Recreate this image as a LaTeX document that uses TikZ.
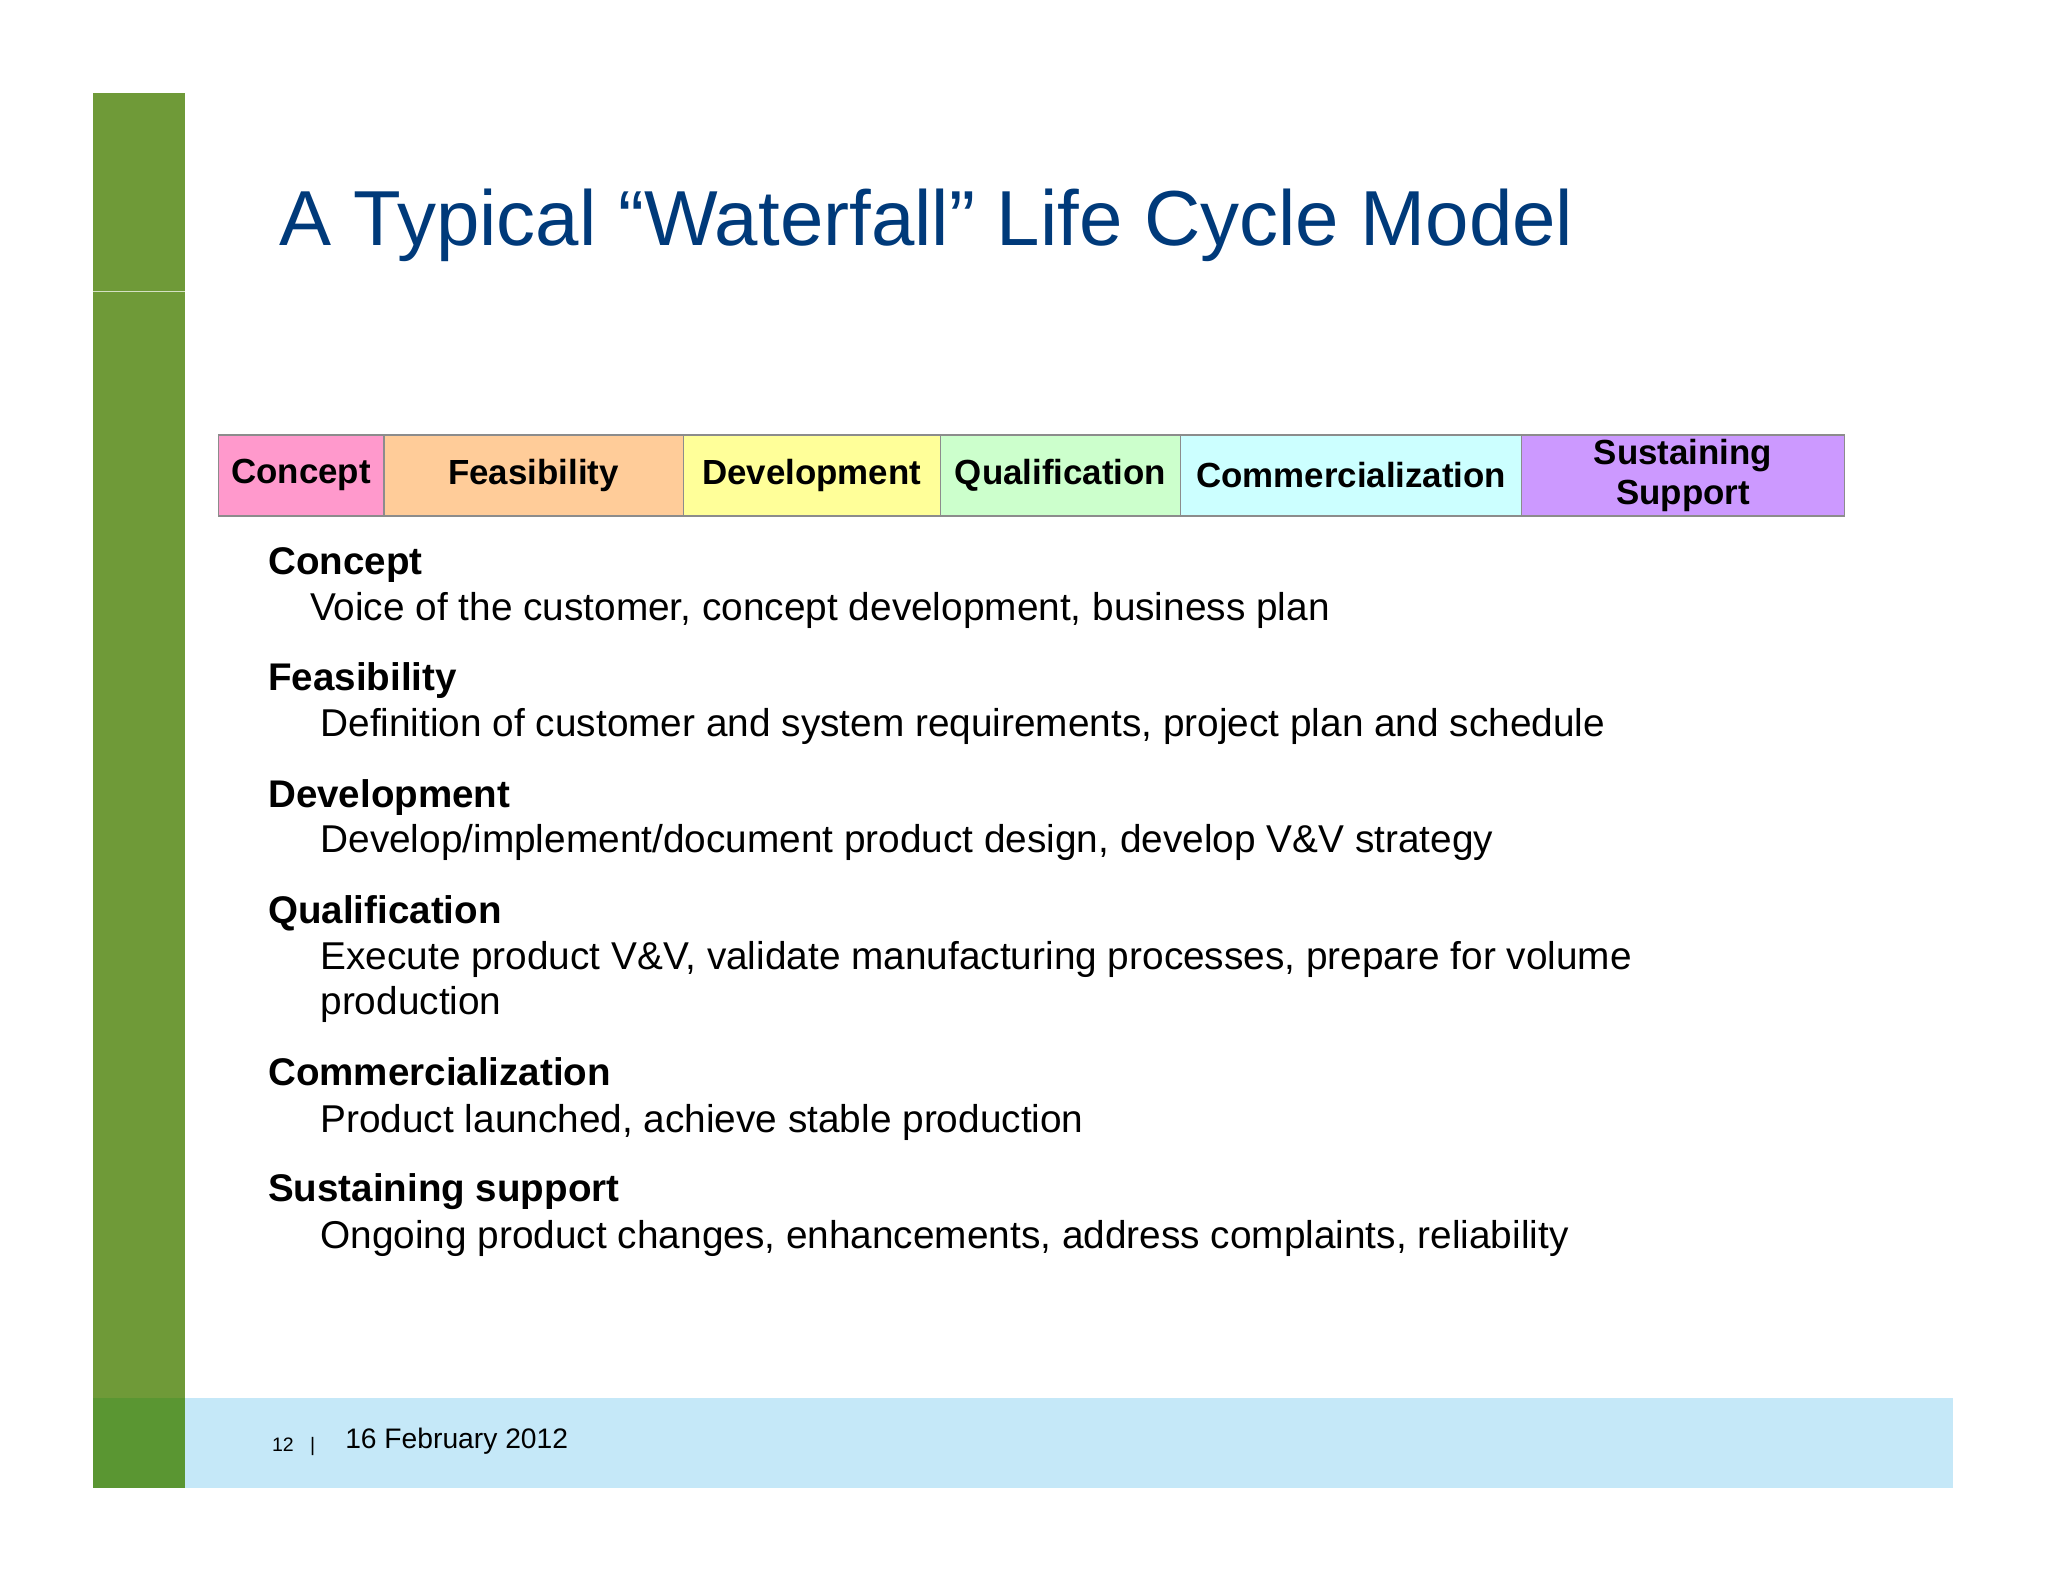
\documentclass[tikz,border=0pt]{standalone}
\usepackage{fontspec}
\setmainfont{Liberation Sans}
\definecolor{titleblue}{HTML}{003A7A}
\definecolor{barg}{HTML}{6F9A38}
\definecolor{barg2}{HTML}{5A9632}
\definecolor{footb}{HTML}{C5E8F8}
\definecolor{cpink}{HTML}{FF99CC}
\definecolor{cpeach}{HTML}{FFCC99}
\definecolor{cyel}{HTML}{FFFF99}
\definecolor{cgreen}{HTML}{CCFFCC}
\definecolor{ccyan}{HTML}{CCFFFF}
\definecolor{cpurp}{HTML}{CC99FF}
\tikzset{
 phase/.style={draw=black!45,line width=0.5pt,font=\fontsize{15.2}{17.5}\selectfont\bfseries,align=center,inner sep=0pt},
 head/.style={anchor=base west,inner sep=0pt,font=\fontsize{16.8}{20}\selectfont\bfseries},
 desc/.style={anchor=base west,inner sep=0pt,font=\fontsize{16.9}{20}\selectfont},
}
\begin{document}
\begin{tikzpicture}[x=0.02cm,y=-0.02cm]
\useasboundingbox (0,0) rectangle (1568,1211);
\fill[white] (0,0) rectangle (1568,1211);
\fill[barg] (71,71) rectangle (142,1139);
\draw[white!70!barg,line width=0.6pt] (71,223) -- (142,223);
\fill[footb] (142,1070) rectangle (1495,1139);
\fill[barg2] (71,1070) rectangle (142,1139);
\node[anchor=base west,inner sep=0pt,text=titleblue,font=\fontsize{34}{40}\selectfont] (title) at (214,188) {A Typical “Waterfall” Life Cycle Model};
\foreach \a/\b/\c/\t/\n in {167/294/cpink/Concept/p1,294/523/cpeach/Feasibility/p2,523/720/cyel/Development/p3,720/904/cgreen/Qualification/p4,904/1165/ccyan/Commercialization/p5,1165/1412/cpurp/{Sustaining\\Support}/p6}{
 \path[phase,fill=\c] (\a,333) rectangle (\b,395);
 \node[phase,draw=none] (\n) at ({(\a+\b)/2},364) {\t};
}
\node[head] (h1) at (205,440) {Concept};
\node[desc] (d1) at (237,475) {Voice of the customer, concept development, business plan};
\node[head] (h2) at (205,529) {Feasibility};
\node[desc] (d2) at (245,564) {Definition of customer and system requirements, project plan and schedule};
\node[head] (h3) at (205,618) {Development};
\node[desc] (d3) at (245,653) {Develop/implement/document product design, develop V\&V strategy};
\node[head] (h4) at (205,707) {Qualification};
\node[desc] (d4) at (245,742) {Execute product V\&V, validate manufacturing processes, prepare for volume};
\node[desc] (d4b) at (245,777) {production};
\node[head] (h5) at (205,831) {Commercialization};
\node[desc] (d5) at (245,867) {Product launched, achieve stable production};
\node[head] (h6) at (205,920) {Sustaining support};
\node[desc] (d6) at (245,956) {Ongoing product changes, enhancements, address complaints, reliability};
\node[anchor=base west,inner sep=0pt,font=\fontsize{8.5}{10}\selectfont] (pg) at (208,1111) {12~~~|};
\node[anchor=base west,inner sep=0pt,font=\fontsize{12.3}{14}\selectfont] (date) at (264,1109) {16 February 2012};
\end{tikzpicture}
\end{document}
